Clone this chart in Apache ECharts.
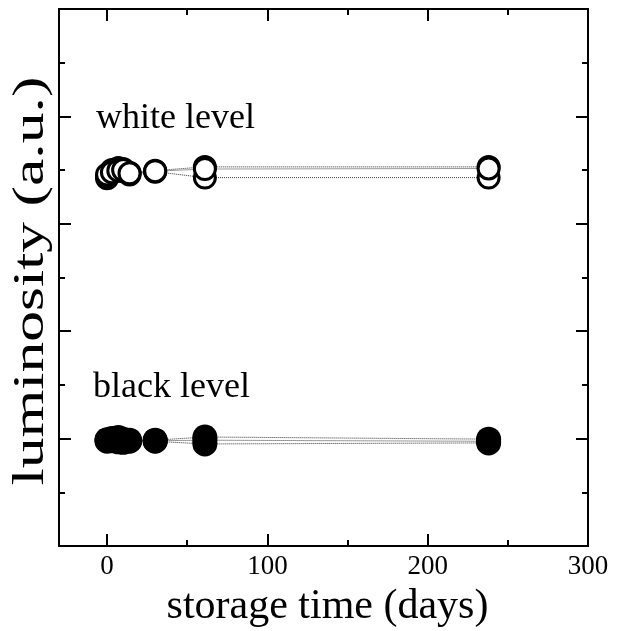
<!DOCTYPE html>
<html>
<head>
<meta charset="utf-8">
<script src="https://cdn.jsdelivr.net/npm/echarts@6/dist/echarts.min.js"></script>
<style>
  html, body { margin: 0; padding: 0; background: #fff; }
  #chart { width: 617px; height: 631px; }
</style>
</head>
<body>
<div id="chart"></div>
<script>
// Measurement days (storage time)
const days = [0, 3, 7, 10, 14, 30, 61, 238];

// White-level luminosity, three samples
const whiteA = [6.85, 6.98, 7.04, 7.02, 6.95, 6.99, 7.06, 7.06];
const whiteB = [6.88, 7.00, 7.02, 6.98, 6.92, 6.97, 6.86, 6.86];
const whiteC = [6.92, 6.96, 6.99, 7.00, 6.94, 6.98, 7.02, 7.03];

// Black-level luminosity, three samples
const blackA = [1.97, 1.99, 2.02, 1.96, 1.95, 1.97, 2.03, 1.99];
const blackB = [1.95, 1.96, 1.94, 1.93, 1.96, 1.95, 1.90, 1.92];
const blackC = [1.98, 2.00, 1.97, 1.99, 1.97, 1.96, 1.97, 1.95];

// Axis ticks
const xMajorTicks = [0, 100, 200, 300];
const xMinorTicks = [50, 150, 250];
const xTickLabels = ['0', '100', '200', '300'];

const serif = '"Liberation Serif", "DejaVu Serif", serif';
const chart = echarts.init(document.getElementById('chart'));

function pairs(vals) { return days.map((d, i) => [d, vals[i]]); }

function xAxisDef(pos, ticks, len, labels) {
  return {
    type: 'value', position: pos, min: -30, max: 300,
    axisLine: { show: true, onZero: false, lineStyle: { color: '#000', width: 2 } },
    axisTick: { show: true, inside: true, length: len, customValues: ticks,
                lineStyle: { color: '#000', width: 2 } },
    axisLabel: labels ? {
      show: true, customValues: ticks, color: '#000', fontFamily: serif, fontSize: 27, margin: 7,
      formatter: v => xTickLabels[xMajorTicks.indexOf(v)]
    } : { show: false },
    splitLine: { show: false }
  };
}

function yAxisDef(pos) {
  return {
    type: 'value', position: pos, min: 0, max: 10, interval: 2,
    axisLine: { show: true, onZero: false, lineStyle: { color: '#000', width: 2 } },
    axisTick: { show: true, inside: true, length: 12, lineStyle: { color: '#000', width: 2 } },
    minorTick: { show: true, splitNumber: 2, length: 6, lineStyle: { color: '#000', width: 2 } },
    axisLabel: { show: false },
    splitLine: { show: false }, minorSplitLine: { show: false }
  };
}

function whiteSeries(vals) {
  return {
    type: 'line', xAxisIndex: 0, yAxisIndex: 0, data: pairs(vals),
    symbol: 'circle', symbolSize: 21,
    itemStyle: { color: '#fff', borderColor: '#000', borderWidth: 3 },
    lineStyle: { color: '#333', width: 1, type: 'dotted' },
    emphasis: { disabled: true }, animation: false
  };
}

function blackSeries(vals) {
  return {
    type: 'line', xAxisIndex: 0, yAxisIndex: 0, data: pairs(vals),
    symbol: 'circle', symbolSize: 25,
    itemStyle: { color: '#000', borderWidth: 0 },
    lineStyle: { color: '#333', width: 1, type: 'dotted' },
    emphasis: { disabled: true }, animation: false
  };
}

chart.setOption({
  backgroundColor: '#fff',
  animation: false,
  grid: { left: 59, right: 29, top: 9, bottom: 85, containLabel: false, outerBoundsMode: 'none' },
  xAxis: [
    Object.assign(xAxisDef('bottom', xMajorTicks, 12, true), {
      name: 'storage time (days)', nameLocation: 'middle', nameGap: 40,
      nameTextStyle: { color: '#000', fontFamily: serif, fontSize: 42, verticalAlign: 'top',
                       padding: [0, 0, 0, 8] }
    }),
    xAxisDef('bottom', xMinorTicks, 6, false),
    xAxisDef('top', xMajorTicks, 12, false),
    xAxisDef('top', xMinorTicks, 6, false)
  ],
  yAxis: [yAxisDef('left'), yAxisDef('right')],
  graphic: [
    // vertical axis title, drawn rotated and stretched along its length
    { type: 'text', x: 31, y: 281, rotation: Math.PI / 2, scaleX: 1.4, scaleY: 1,
      style: { text: 'luminosity (a.u.)', font: '44px ' + serif, fill: '#000',
               align: 'center', verticalAlign: 'middle' } },
    { type: 'text', left: 96, top: 101,
      style: { text: 'white level', font: '36px ' + serif, fill: '#000' } },
    { type: 'text', left: 93, top: 370,
      style: { text: 'black level', font: '36px ' + serif, fill: '#000' } }
  ],
  series: [
    whiteSeries(whiteA), whiteSeries(whiteB), whiteSeries(whiteC),
    blackSeries(blackA), blackSeries(blackB), blackSeries(blackC)
  ]
});
</script>
</body>
</html>
